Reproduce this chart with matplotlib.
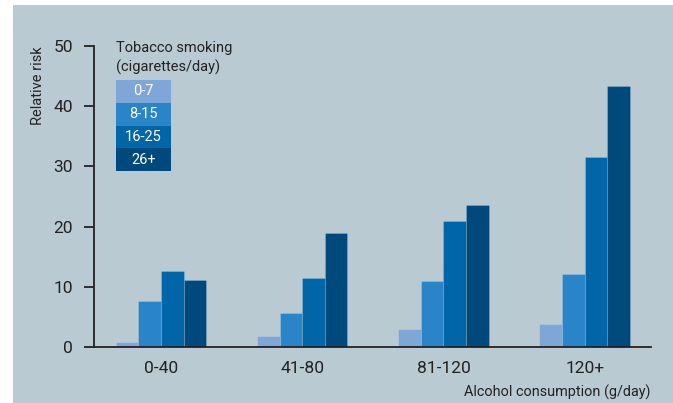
import numpy as np
import matplotlib.pyplot as plt
from matplotlib.patches import Rectangle

plt.rcParams['font.family'] = ['Roboto', 'DejaVu Sans']

alcohol = ['0-40', '41-80', '81-120', '120+']
tobacco = ['0-7', '8-15', '16-25', '26+']
risk_0_7 = [0.8, 1.8, 3.0, 3.9]
risk_8_15 = [7.6, 5.6, 10.9, 12.1]
risk_16_25 = [12.7, 11.5, 20.9, 31.5]
risk_26_plus = [11.1, 18.9, 23.6, 43.3]

colors = ['#7ea7d8', '#2a84c8', '#0066a8', '#00497d']
bg = '#b9cad3'
txt = '#222222'

fig = plt.figure(figsize=(6.73, 4.03), dpi=100, facecolor='white')
fig.patches.append(Rectangle((13 / 673, 0), 1, 1 - 5 / 403, transform=fig.transFigure,
                             facecolor=bg, edgecolor='none', zorder=-5))

ax = fig.add_axes([94 / 673, 56 / 403, 557 / 673, 301 / 403])
ax.set_facecolor('none')

series = [risk_0_7, risk_8_15, risk_16_25, risk_26_plus]
x = np.arange(len(alcohol))
w = 0.16
for i, vals in enumerate(series):
    ax.bar(x + (i - 1.5) * w, vals, width=w, color=colors[i],
           edgecolor='#ffffff30', linewidth=0.6, zorder=2)

ax.set_xlim(-0.475, 3.47)
ax.set_ylim(0, 50)
ax.set_yticks([0, 10, 20, 30, 40, 50])
ax.set_xticks(x)
ax.set_xticklabels(alcohol)

for s in ['top', 'right']:
    ax.spines[s].set_visible(False)
for s in ['left', 'bottom']:
    ax.spines[s].set_color(txt)
    ax.spines[s].set_linewidth(1.3)
ax.tick_params(axis='y', length=7, width=1.3, color=txt, labelsize=12.5, labelcolor=txt, pad=8)
ax.tick_params(axis='x', length=0, labelsize=12.5, labelcolor=txt, pad=10)

# y label sits at the top of the axis
fig.text(38 / 673, 1 - 46 / 403, 'Relative risk', rotation=90, ha='center', va='top',
         fontsize=10.5, color=txt)
fig.text(650 / 673, 1 - 392 / 403, 'Alcohol consumption (g/day)', ha='right', va='center',
         fontsize=10.4, color=txt)

# legend: stacked colour boxes
lx0, lx1 = 0.0395, 0.138
top = 0.887
h = 0.0756
for i, lab in enumerate(tobacco):
    y0 = top - (i + 1) * h
    ax.add_patch(Rectangle((lx0, y0), lx1 - lx0, h, transform=ax.transAxes,
                           facecolor=colors[i], edgecolor='none', zorder=3, clip_on=False))
    ax.text((lx0 + lx1) / 2, y0 + h / 2, lab, transform=ax.transAxes, ha='center',
            va='center', color='white', fontsize=10.5, zorder=4)
ax.text(lx0, 0.905, 'Tobacco smoking\n(cigarettes/day)', transform=ax.transAxes,
        ha='left', va='bottom', fontsize=10.5, color=txt, linespacing=1.35)

fig.savefig('out.png', dpi=100, facecolor='white')
